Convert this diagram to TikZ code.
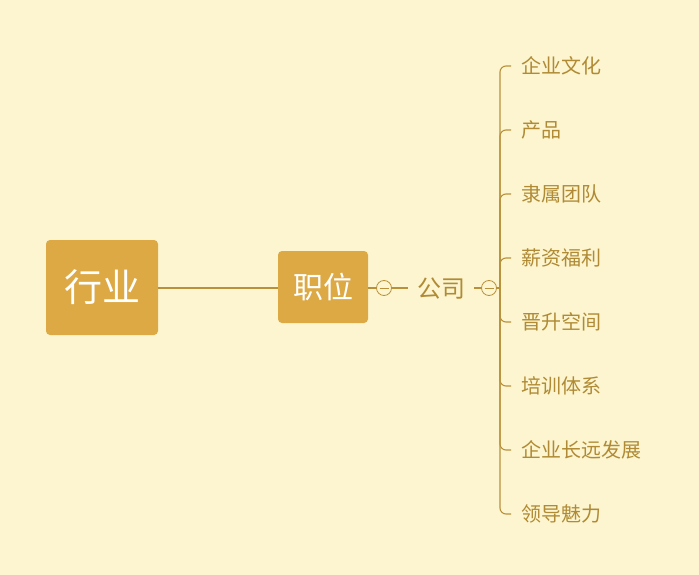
\documentclass[tikz,border=0pt]{standalone}
\usepackage{fontspec}
\setmainfont{Noto Sans CJK SC}
\definecolor{bg}{HTML}{FCF5CF}
\definecolor{boxfill}{HTML}{DDA944}
\definecolor{ln}{HTML}{B8913A}
\definecolor{txt}{HTML}{B08A34}
\begin{document}
\begin{tikzpicture}[x=1pt,y=-1pt,
  mainbox/.style={fill=boxfill,rounded corners=4pt,text=white,inner sep=0pt},
  conn/.style={draw=ln,line width=1.1pt},
  leaf/.style={text=txt,font=\fontsize{20}{22}\selectfont,anchor=west,inner sep=0pt},
  fold/.style={circle,draw=ln,line width=0.8pt,fill=bg,minimum size=15pt,inner sep=0pt}]
\fill[bg] (0,0) rectangle (699,575);
\useasboundingbox (0,0) rectangle (699,575);
\node[mainbox,minimum width=112pt,minimum height=95pt,font=\fontsize{38}{40}\selectfont] (ind) at (102,287.5) {行业};
\node[mainbox,minimum width=90pt,minimum height=72pt,font=\fontsize{30}{32}\selectfont] (pos) at (323,287) {职位};
\draw[conn] (ind.east |- 0,288) -- (pos.west |- 0,288);
\node[fold] (f1) at (384,288) {};
\draw[ln,line width=0.8pt] (379.5,288) -- (388.5,288);
\node[text=txt,font=\fontsize{24}{26}\selectfont,inner sep=0pt] (co) at (441,289) {公司};
\draw[conn] (pos.east |- 0,288) -- (f1.west);
\draw[conn] (f1.east) -- (408,288);
\draw[conn] (474,288) -- ++(7,0);
\node[fold] (f2) at (489,288) {};
\draw[ln,line width=0.8pt] (484.5,288) -- (493.5,288);
\coordinate (hub) at (500,288);
\draw[conn] (f2.east) -- (hub);
\foreach \t [count=\i from 0] in {企业文化,产品,隶属团队,薪资福利,晋升空间,培训体系,企业长远发展,领导魅力}{
  \node[leaf] (c\i) at (521,{66+64*\i}) {\t};
  \coordinate (k\i) at (511,{66+64*\i});
  \draw[conn,rounded corners=6pt] (hub) |- (k\i);
}
\end{tikzpicture}
\end{document}
